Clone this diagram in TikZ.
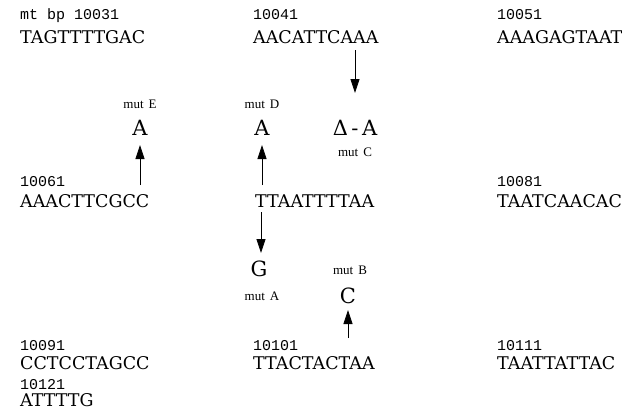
\documentclass[tikz,border=0pt]{standalone}
\usepackage{fontspec}
\setmainfont{DejaVu Serif}
\newfontfamily\numfont{Liberation Mono}
\newfontfamily\labfont{Liberation Serif}
\usetikzlibrary{arrows.meta}
\begin{document}
\begin{tikzpicture}[x=1pt,y=-1pt,
 num/.style={anchor=base west,inner sep=0,font=\numfont\fontsize{15}{15}\selectfont},
 seq/.style={anchor=base west,inner sep=0,font=\fontsize{17.5}{17.5}\selectfont},
 big/.style={anchor=base,inner sep=0,font=\fontsize{21}{21}\selectfont},
 mut/.style={anchor=base,inner sep=0,font=\labfont\fontsize{13}{13}\selectfont},
 arr/.style={-{Triangle[width=9pt,length=14pt]},line width=0.8pt}]
\useasboundingbox (0,0) rectangle (632,410);
% row 1
\node[num] (l1) at (20,19) {mt bp 10031};
\node[seq] (s1) at (20,43) {TAGTTTTGAC};
\node[num] (l2) at (253,19) {10041};
\node[seq] (s2) at (253,43) {AACATTCAAA};
\node[num] (l3) at (497,19) {10051};
\node[seq] (s3) at (497,43) {AAAGAGTAAT};
% mutations upper
\node[mut] (mE) at (140,108) {mut\hspace{5pt}E};
\node[big] (aE) at (140,135) {A};
\node[mut] (mD) at (262,108) {mut\hspace{5pt}D};
\node[big] (aD) at (262,135) {A};
\node[big] (dA) at (355,135) {Δ\,-\,A};
\node[mut] (mC) at (355,156) {mut\hspace{5pt}C};
% row 2
\node[num] (l4) at (20,186) {10061};
\node[seq] (s4) at (20,207) {AAACTTCGCC};
\node[seq] (s5) at (255,207) {TTAATTTTAA};
\node[num] (l6) at (497,186) {10081};
\node[seq] (s6) at (497,207) {TAATCAACAC};
% mutations lower
\node[big] (gA) at (259,276) {G};
\node[mut] (mA) at (262,300) {mut\hspace{5pt}A};
\node[mut] (mB) at (350,274) {mut\hspace{5pt}B};
\node[big] (cB) at (348,303) {C};
% row 3
\node[num] (l7) at (20,350) {10091};
\node[seq] (s7) at (20,369) {CCTCCTAGCC};
\node[num] (l8) at (20,389) {10121};
\node[seq] (s8) at (20,406) {ATTTTG};
\node[num] (l9) at (253,350) {10101};
\node[seq] (s9) at (253,369) {TTACTACTAA};
\node[num] (l10) at (497,350) {10111};
\node[seq] (s10) at (497,369) {TAATTATTAC};
% arrows
\coordinate (cT) at (355,50);  \coordinate (cH) at (355,93);
\coordinate (eT) at (140,185); \coordinate (eH) at (140,145);
\coordinate (dT) at (262,185); \coordinate (dH) at (262,145);
\coordinate (aT) at (261,212); \coordinate (aH) at (261,253);
\coordinate (bT) at (348,338); \coordinate (bH) at (348,310);
\draw[arr] (cT) -- (cH);
\draw[arr] (eT) -- (eH);
\draw[arr] (dT) -- (dH);
\draw[arr] (aT) -- (aH);
\draw[arr] (bT) -- (bH);
\end{tikzpicture}
\end{document}
